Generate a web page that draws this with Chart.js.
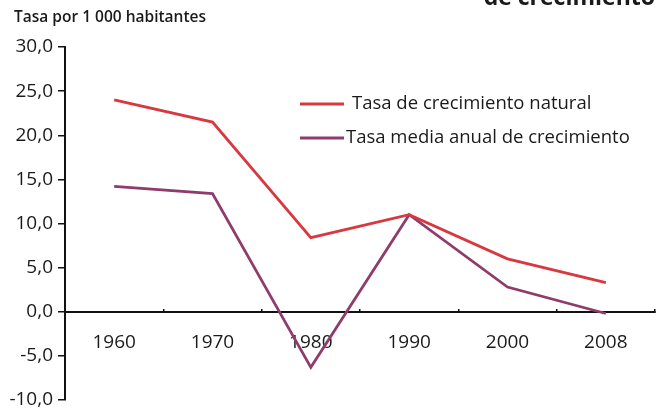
<!DOCTYPE html>
<html>
<head>
<meta charset="utf-8">
<script src="https://cdn.jsdelivr.net/npm/chart.js@4/dist/chart.umd.min.js"></script>
<style>
html,body{margin:0;padding:0;background:#fff;}
#wrap{width:659px;height:408px;position:relative;}
</style>
</head>
<body>
<div id="wrap"><canvas id="c" width="659" height="408"></canvas></div>
<script>
const years = ['1960', '1970', '1980', '1990', '2000', '2008'];
const tasaNatural = [24.0, 21.5, 8.4, 11.0, 6.0, 3.3];
const tasaMediaAnual = [14.2, 13.4, -6.3, 11.0, 2.8, -0.2];
const seriesLabels = ['Tasa de crecimiento natural', 'Tasa media anual de crecimiento'];
const yTicks = [-10, -5, 0, 5, 10, 15, 20, 25, 30];
const axisTitle = 'Tasa por 1 000 habitantes';
const chartTitle = 'de crecimiento';

const FONT = '"Open Sans", "Noto Sans", sans-serif';
const INK = '#1a1a1a';

const extras = {
  id: 'extras',
  afterDraw(chart) {
    const ctx = chart.ctx;
    ctx.save();
    // clipped heading at top
    ctx.fillStyle = INK;
    ctx.font = 'bold 23px ' + FONT;
    ctx.textAlign = 'right';
    ctx.textBaseline = 'alphabetic';
    ctx.fillText(chartTitle, 655, 5);
    // axis unit title
    ctx.font = '600 15.5px ' + FONT;
    ctx.textAlign = 'left';
    ctx.textBaseline = 'middle';
    ctx.fillText(axisTitle, 14, 18);
    // legend
    const ys = [104, 138];
    const tx = [352, 346];
    chart.data.datasets.forEach((ds, i) => {
      ctx.strokeStyle = ds.borderColor;
      ctx.lineWidth = 3;
      ctx.beginPath();
      ctx.moveTo(300, ys[i]);
      ctx.lineTo(344, ys[i]);
      ctx.stroke();
      ctx.fillStyle = INK;
      ctx.font = '500 18.5px ' + FONT;
      ctx.textAlign = 'left';
      ctx.textBaseline = 'middle';
      ctx.fillText(ds.label, tx[i], ys[i]);
    });
    ctx.restore();
  }
};

new Chart(document.getElementById('c'), {
  type: 'line',
  data: {
    labels: years,
    datasets: [
      {label: seriesLabels[0], data: tasaNatural, borderColor: '#d8383f', borderWidth: 2.8, pointRadius: 0, tension: 0, fill: false},
      {label: seriesLabels[1], data: tasaMediaAnual, borderColor: '#8f3b6c', borderWidth: 2.8, pointRadius: 0, tension: 0, fill: false}
    ]
  },
  options: {
    responsive: false,
    animation: false,
    layout: {padding: {top: 47, bottom: 8, left: 0, right: 4}},
    plugins: {legend: {display: false}, title: {display: false}, tooltip: {enabled: false}},
    scales: {
      x: {
        type: 'category',
        position: {y: 0},
        offset: true,
        border: {display: true, color: '#111', width: 2},
        grid: {display: true, offset: true, drawOnChartArea: false, drawTicks: true, tickLength: -4, color: '#111', lineWidth: 1.5},
        ticks: {color: INK, font: {family: FONT, size: 19, weight: '500'}, padding: 23, maxRotation: 0}
      },
      y: {
        min: -10, max: 30,
        afterFit(scale) { scale.width = 65; scale.paddingTop = 0; scale.paddingBottom = 0; },
        afterBuildTicks(scale) { scale.ticks = yTicks.map(v => ({value: v})); },
        border: {display: true, color: '#111', width: 2},
        grid: {display: true, drawOnChartArea: false, drawTicks: true, tickLength: 7, color: '#111', lineWidth: 1.5},
        ticks: {color: INK, font: {family: FONT, size: 19, weight: '500'}, padding: 5,
          callback: v => v.toFixed(1).replace('.', ',')}
      }
    }
  },
  plugins: [extras]
});
</script>
</body>
</html>
